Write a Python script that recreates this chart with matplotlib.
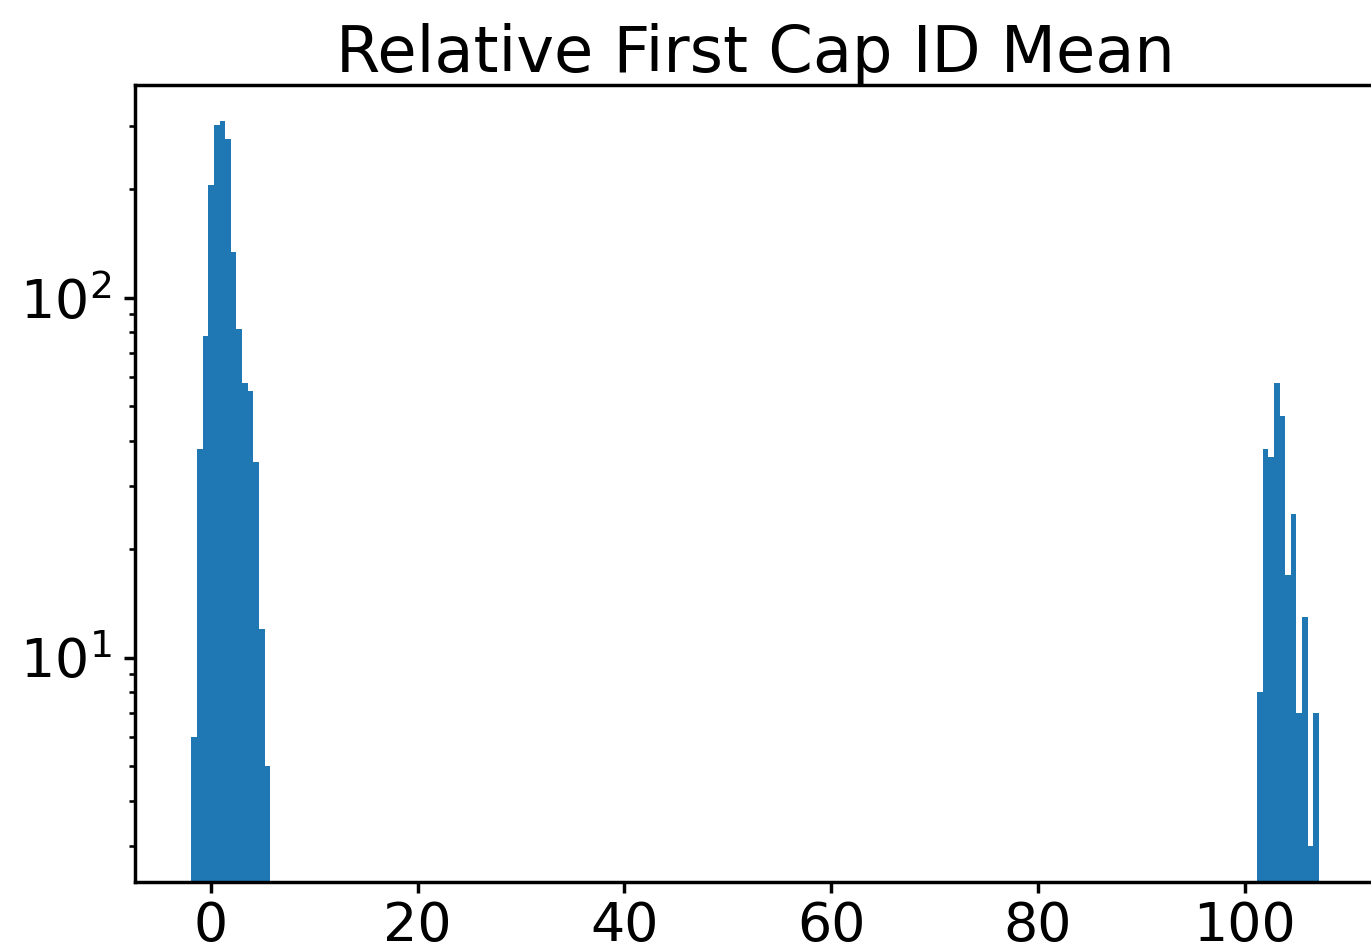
import matplotlib
matplotlib.use("Agg")
import matplotlib.pyplot as plt
import numpy as np

# histogram of relative first cap id mean, 200 bins, log counts
bin_lo = -1.89
bin_hi = 107.2
n_bins = 200

# counts in the two occupied groups of bins
left_start = 0
left_counts = [6, 38, 78, 206, 302, 309, 275, 134, 82, 58, 55, 35, 12, 5]
right_start = 189
right_counts = [8, 38, 36, 58, 47, 17, 25, 7, 13, 3, 7]

edges = np.linspace(bin_lo, bin_hi, n_bins + 1)
centers = (edges[:-1] + edges[1:]) / 2
counts = np.zeros(n_bins)
counts[left_start:left_start + len(left_counts)] = left_counts
counts[right_start:right_start + len(right_counts)] = right_counts

plt.rcParams['font.size'] = 12.5

fig = plt.figure(figsize=(1371 / 310, 952 / 310), dpi=310)
ax = fig.add_axes([135 / 1371, 1 - 882 / 952, 1240.4 / 1371, 797 / 952])
ax.hist(centers, bins=edges, weights=counts, log=True)
ax.set_title("Relative First Cap ID Mean", fontsize=14.85, pad=1)
ax.set_xticks([0, 20, 40, 60, 80, 100])
ax.tick_params(axis='both', which='major', length=2.55)
ax.tick_params(axis='both', which='minor', length=1.35)
ax.tick_params(axis='x', which='major', pad=1.7)
ax.tick_params(axis='y', which='major', pad=3.0)

fig.savefig("out.png", dpi=310)
